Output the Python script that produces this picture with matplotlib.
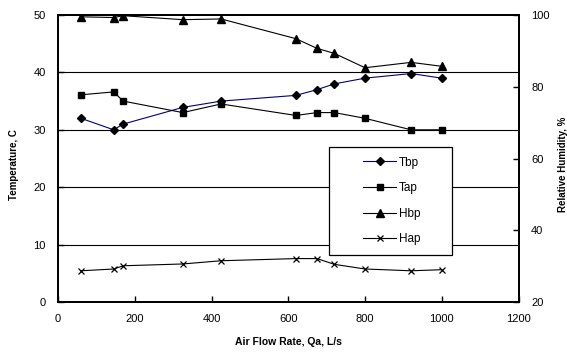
import matplotlib
matplotlib.use("Agg")
import matplotlib.pyplot as plt
from matplotlib.patches import Rectangle

plt.rcParams['font.family'] = ['Liberation Sans', 'DejaVu Sans']

# air flow rate, L/s
qa = [60, 145, 170, 325, 425, 620, 675, 720, 800, 920, 1000]
# temperatures, C (left axis)
tbp = [32.0, 30.0, 31.0, 33.9, 35.0, 36.0, 37.0, 38.0, 39.0, 39.8, 39.0]
tap = [36.1, 36.6, 35.0, 33.0, 34.5, 32.5, 33.0, 33.0, 32.0, 30.0, 30.0]
# relative humidity, % (right axis)
hbp = [99.5, 99.3, 99.8, 98.7, 98.9, 93.4, 90.7, 89.3, 85.3, 86.8, 85.7]
hap = [28.7, 29.2, 30.1, 30.6, 31.5, 32.1, 32.1, 30.5, 29.2, 28.7, 29.0]

fig = plt.figure(figsize=(5.67, 3.54), dpi=100)
ax = fig.add_axes([0.1023, 0.1469, 0.8122, 0.8107])
ax2 = ax.twinx()

ms = 5
l1, = ax.plot(qa, tbp, color="#000080", lw=0.8, marker="D", ms=4.2,
              mfc="black", mec="black", label="Tbp")
l2, = ax.plot(qa, tap, color="black", lw=0.8, marker="s", ms=ms, label="Tap")
l3, = ax2.plot(qa, hbp, color="black", lw=0.8, marker="^", ms=ms + 0.5, label="Hbp")
l4, = ax2.plot(qa, hap, color="black", lw=0.8, marker="x", ms=ms,
               mew=0.9, label="Hap")

ax.set_xlim(0, 1200)
ax.set_ylim(0, 50)
ax2.set_ylim(20, 100)
ax.set_xticks(range(0, 1201, 200))
ax.set_yticks(range(0, 51, 10))
ax2.set_yticks(range(20, 101, 20))

for y in [10, 20, 30, 40]:
    ax.axhline(y, color="black", lw=0.8, zorder=0)

for a in (ax, ax2):
    for s in a.spines.values():
        s.set_linewidth(1.3)
    a.tick_params(direction="in", length=4, width=1, labelsize=8, pad=9)

ax.set_xlabel("Air Flow Rate, Qa, L/s", fontsize=7.5, fontweight="bold", labelpad=9)
ax.set_ylabel("Temperature, C", fontsize=7, fontweight="bold")
ax2.set_ylabel("Relative Humidity, %", fontsize=7, fontweight="bold")
ax.yaxis.set_label_coords(-0.085, 0.48)
ax2.yaxis.set_label_coords(1.085, 0.48)

# legend box
ax2.add_patch(Rectangle((0.588, 0.164), 0.268, 0.376, transform=ax2.transAxes,
                        facecolor="white", edgecolor="black", lw=0.9, zorder=4))
leg = ax2.legend(handles=[l1, l2, l3, l4], loc="center",
                 bbox_to_anchor=(0.725, 0.352), frameon=False, fontsize=8.5,
                 handlelength=2.8, handletextpad=0.2, labelspacing=1.15)
leg.set_zorder(5)

fig.savefig("out.png", dpi=100)
